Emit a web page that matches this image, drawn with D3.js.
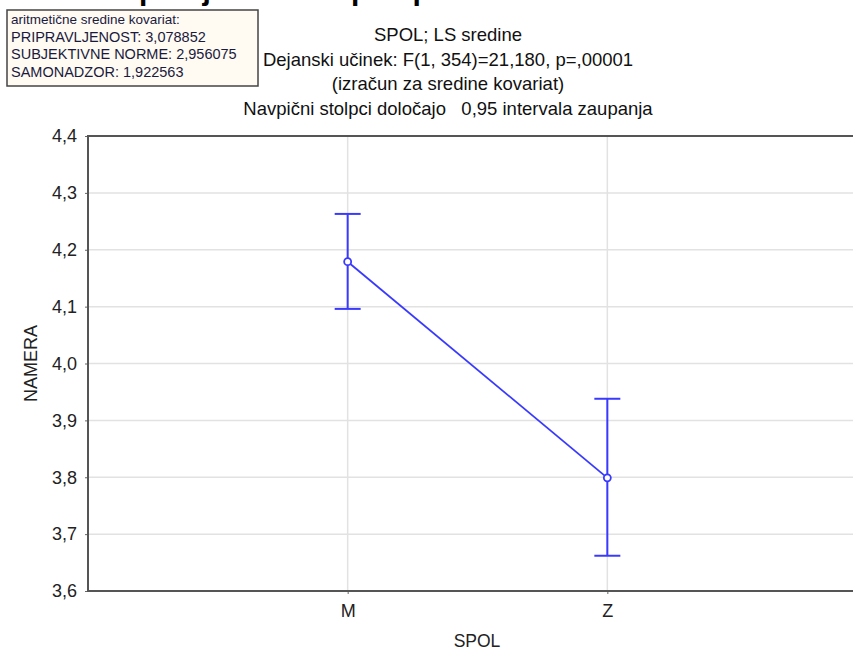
<!DOCTYPE html>
<html>
<head>
<meta charset="utf-8">
<script src="https://cdn.jsdelivr.net/npm/d3@7"></script>
<style>
  body { margin: 0; background: #fff; }
  svg { font-family: "Liberation Sans", Arial, sans-serif; }
</style>
</head>
<body>
<div id="chart"></div>
<script>
// data
var categories = ['M', 'Z'];
var means = [4.179, 3.799];
var ciLow = [4.096, 3.662];
var ciHigh = [4.263, 3.938];
var yTicks = [3.6, 3.7, 3.8, 3.9, 4.0, 4.1, 4.2, 4.3, 4.4];
var subtitle = [
    'SPOL; LS sredine',
    'Dejanski učinek: F(1, 354)=21,180, p=,00001',
    '(izračun za sredine kovariat)',
    'Navpični stolpci določajo   0,95 intervala zaupanja'
];
var legendLines = [
    'aritmetične sredine kovariat:',
    'PRIPRAVLJENOST: 3,078852',
    'SUBJEKTIVNE NORME: 2,956075',
    'SAMONADZOR: 1,922563'
];

var W = 853, H = 650;
var plot = {left: 88, top: 136, right: 867, bottom: 591};
var blue = '#3a3aff';

var svg = d3.select('#chart').append('svg')
    .attr('width', W)
    .attr('height', H);

var x = d3.scalePoint().domain(categories).range([plot.left, plot.right]).padding(1);
var y = d3.scaleLinear().domain([3.6, 4.4]).range([plot.bottom, plot.top]);
var fmt = function(d){ return d3.format('.1f')(d).replace('.', ','); };

// title of the page, cut off at the very top like in the source
svg.append('text')
    .attr('x', 280).attr('y', 0)
    .attr('text-anchor', 'middle')
    .attr('font-size', 30).attr('font-weight', 'bold')
    .text('Povprečje namere po spolu');

// gridlines
svg.append('g').selectAll('line').data(yTicks.slice(1, -1)).join('line')
    .attr('x1', plot.left).attr('x2', W)
    .attr('y1', d => y(d)).attr('y2', d => y(d))
    .attr('stroke', '#e2e2e2').attr('stroke-width', 1.5);
svg.append('g').selectAll('line').data(categories).join('line')
    .attr('x1', d => x(d)).attr('x2', d => x(d))
    .attr('y1', plot.top).attr('y2', plot.bottom)
    .attr('stroke', '#e2e2e2').attr('stroke-width', 1.5);

// axes
var yAxis = svg.append('g')
    .attr('transform', 'translate(' + plot.left + ',0)')
    .call(d3.axisLeft(y).tickValues(yTicks).tickFormat(fmt).tickSize(3).tickPadding(8));
var xAxis = svg.append('g')
    .attr('transform', 'translate(0,' + plot.bottom + ')')
    .call(d3.axisBottom(x).tickSize(3).tickPadding(10));
[yAxis, xAxis].forEach(function(a){
    a.select('.domain').remove();
    a.selectAll('.tick line').attr('stroke', '#666');
    a.selectAll('text').attr('font-size', 18).attr('fill', '#222')
        .attr('font-family', '"Liberation Sans", Arial, sans-serif');
});

// frame (no right edge visible)
svg.append('path')
    .attr('d', 'M' + W + ',' + plot.top + 'H' + plot.left + 'V' + plot.bottom + 'H' + W)
    .attr('fill', 'none').attr('stroke', '#555').attr('stroke-width', 2);

// axis titles
svg.append('text')
    .attr('transform', 'translate(37,' + ((plot.top + plot.bottom) / 2) + ') rotate(-90)')
    .attr('text-anchor', 'middle').attr('font-size', 18).attr('fill', '#222')
    .text('NAMERA');
svg.append('text')
    .attr('x', 477).attr('y', 647)
    .attr('text-anchor', 'middle').attr('font-size', 17.5).attr('fill', '#222')
    .text('SPOL');

// subtitle
svg.append('g').selectAll('text').data(subtitle).join('text')
    .attr('x', 448).attr('y', (d, i) => 41 + i * 24.7)
    .attr('text-anchor', 'middle').attr('font-size', 18.5).attr('fill', '#111')
    .style('white-space', 'pre')
    .text(d => d);

// legend box
var lg = svg.append('g').attr('transform', 'translate(7,10)');
lg.append('rect')
    .attr('width', 251).attr('height', 76)
    .attr('fill', '#fffbf2').attr('stroke', '#444').attr('stroke-width', 1.5);
lg.selectAll('text').data(legendLines).join('text')
    .attr('x', 4).attr('y', (d, i) => 14 + i * 17.5)
    .attr('font-size', (d, i) => i == 0 ? 13.5 : 14.5)
    .attr('fill', '#1a1a40')
    .text(d => d);

// error bars
var pts = categories.map((c, i) => ({c: c, m: means[i], lo: ciLow[i], hi: ciHigh[i]}));
var eb = svg.append('g').attr('stroke', blue).attr('stroke-width', 2);
eb.selectAll('.v').data(pts).join('line')
    .attr('x1', d => x(d.c)).attr('x2', d => x(d.c))
    .attr('y1', d => y(d.lo)).attr('y2', d => y(d.hi));
eb.selectAll('.lo').data(pts).join('line')
    .attr('x1', d => x(d.c) - 13).attr('x2', d => x(d.c) + 13)
    .attr('y1', d => y(d.lo)).attr('y2', d => y(d.lo));
eb.selectAll('.hi').data(pts).join('line')
    .attr('x1', d => x(d.c) - 13).attr('x2', d => x(d.c) + 13)
    .attr('y1', d => y(d.hi)).attr('y2', d => y(d.hi));

// mean line and markers
svg.append('path').datum(pts)
    .attr('d', d3.line().x(d => x(d.c)).y(d => y(d.m)))
    .attr('fill', 'none').attr('stroke', blue).attr('stroke-width', 1.8);
svg.append('g').selectAll('circle').data(pts).join('circle')
    .attr('cx', d => x(d.c)).attr('cy', d => y(d.m)).attr('r', 3.5)
    .attr('fill', '#fff').attr('stroke', blue).attr('stroke-width', 1.8);
</script>
</body>
</html>
